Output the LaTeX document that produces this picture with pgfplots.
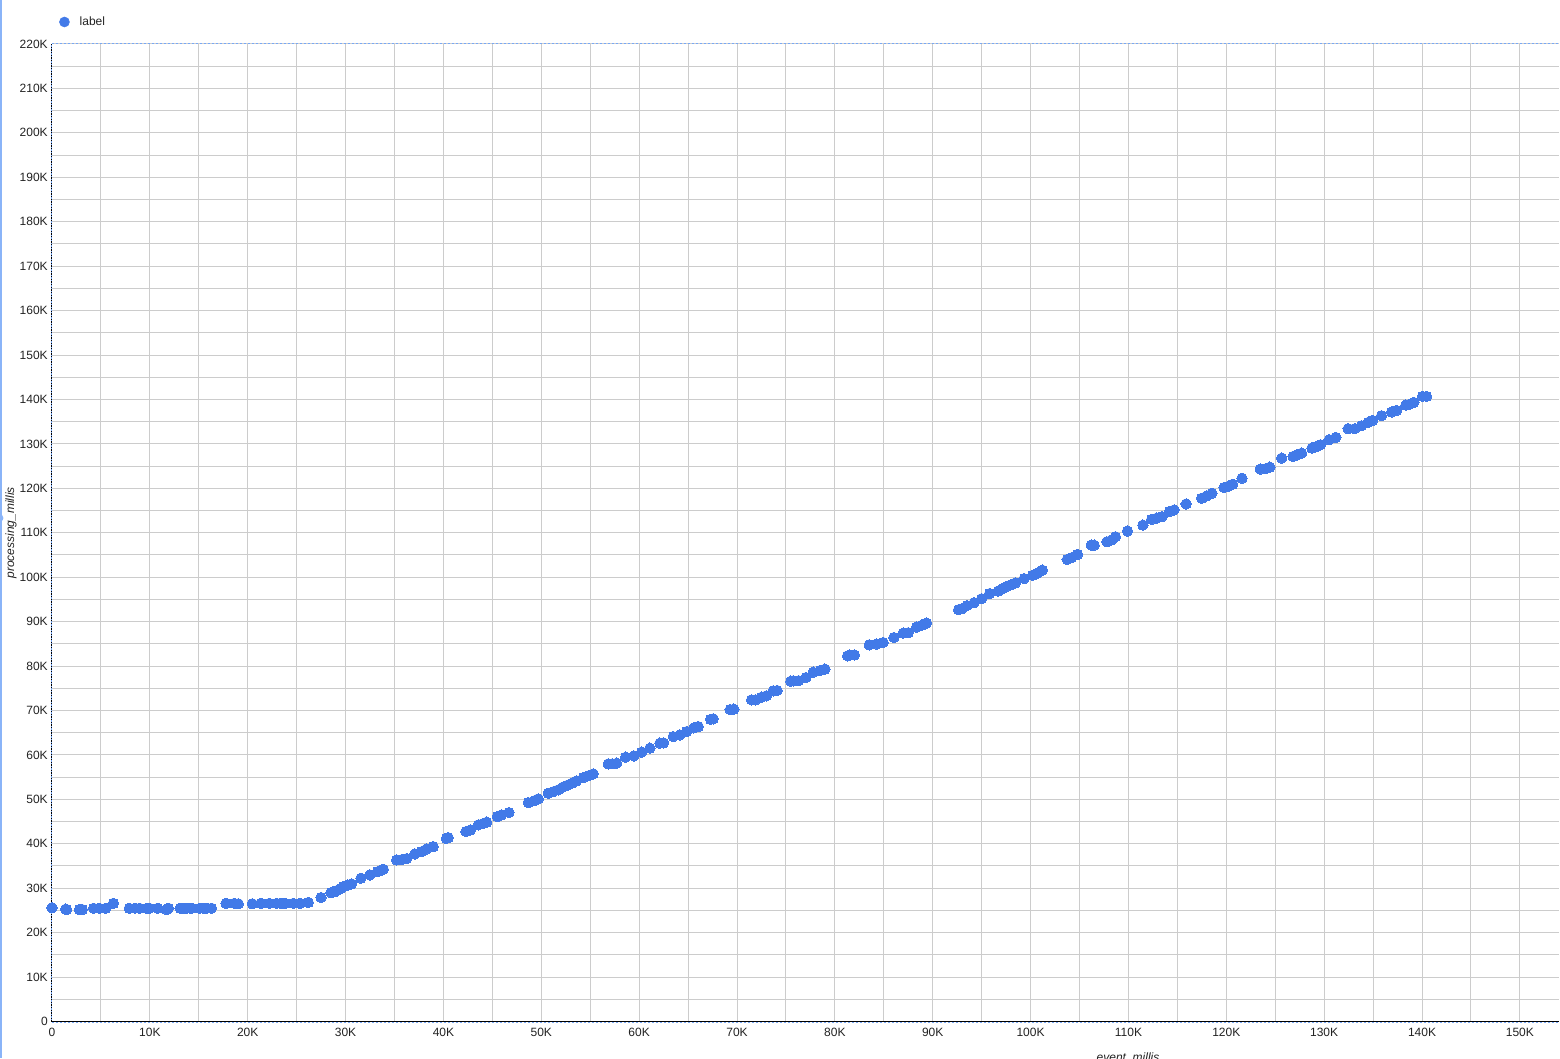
\documentclass[border=0pt]{standalone}
\usepackage{fontspec}
\setmainfont{Liberation Sans}
\usepackage{pgfplots}
\pgfplotsset{compat=1.18}
\definecolor{markblue}{RGB}{66,122,232}
\definecolor{gridgray}{RGB}{204,204,204}
\definecolor{dotblue}{RGB}{120,168,245}
\definecolor{stripeblue}{RGB}{138,180,248}
\definecolor{txt}{RGB}{34,34,34}

\pgfplotstableread{
x y
0 25600
1400 25300
1500 25200
2800 25200
3100 25200
4250 25500
4830 25500
5500 25500
6270 26600
7900 25500
8480 25500
8950 25500
9700 25500
9950 25500
10800 25500
11720 25200
11890 25500
13100 25500
13420 25500
13760 25500
14100 25500
14270 25500
15120 25500
15460 25500
15810 25500
16300 25500
17780 26600
18630 26600
19040 26500
20470 26500
21360 26600
22210 26600
22960 26600
23400 26600
23800 26600
24660 26600
25340 26600
26190 26800
27490 27900
28510 29000
28900 29200
29090 29450
29500 29900
29760 30350
30200 30700
30620 30960
31570 32250
32490 32990
33280 33730
33600 34000
33850 34270
35220 36370
35700 36400
36240 36660
37090 37720
37770 38230
38290 38840
38960 39360
40300 41200
40490 41390
42300 42740
42780 43120
43560 44250
44000 44500
44420 44860
45500 46120
45950 46500
46690 47020
48670 49270
49300 49700
49690 50100
50710 51380
51200 51700
51730 52130
52250 52800
52750 53250
53200 53700
53610 54150
54290 54900
54800 55300
55310 55730
56840 57980
57250 58000
57700 58140
58620 59490
59470 59780
60250 60620
61100 61520
62120 62640
62500 62700
63480 64130
64170 64510
64850 65260
65600 66100
66040 66380
67300 68000
67570 68120
69300 70200
69680 70300
71490 72390
71900 72400
72510 73000
73000 73300
73700 74420
74100 74500
75500 76600
75740 76670
76300 76700
77040 77410
77790 78630
78500 79000
78980 79310
81300 82300
81540 82460
82000 82500
83510 84780
84270 84940
84940 85300
86030 86420
86980 87410
87500 87500
88350 88760
88900 89200
89370 89660
92640 92680
93000 92900
93500 93600
94230 94260
95000 95160
95810 96310
96690 96890
97200 97500
97580 97950
98000 98300
98460 98720
99340 99680
100210 100430
100700 100900
101210 101580
103740 103990
104200 104400
104790 105110
106200 107210
106500 107200
107800 107970
108300 108400
108670 109100
109900 110380
111480 111730
112370 113010
112900 113300
113430 113620
114200 114800
114660 115130
115890 116480
117480 117770
118000 118300
118530 118890
119770 120180
120250 120500
120650 120920
121600 122270
123470 124320
124000 124400
124450 124770
125660 126800
126820 127180
127200 127500
127700 127920
128750 129050
129200 129400
129630 129810
130510 130940
131190 131460
132450 133420
133130 133420
133820 134090
134490 134830
134940 135280
135860 136340
136890 137170
137400 137530
138350 138750
138700 138900
139160 139340
140050 140690
140460 140690
}\datatable

\begin{document}
\begin{tikzpicture}
\useasboundingbox (-39pt,-27.375pt) rectangle (1131pt,766.125pt);
\begin{axis}[
  at={(0pt,0pt)}, anchor=south west,
  scale only axis, width=1130.25pt, height=733.125pt,
  xmin=0, xmax=154000, ymin=0, ymax=220000,
  clip=false,
  axis line style={draw=none},
  scaled x ticks=false, scaled y ticks=false,
  xtick={0,10000,20000,30000,40000,50000,60000,70000,80000,90000,100000,110000,120000,130000,140000,150000},
  xticklabels={0,10K,20K,30K,40K,50K,60K,70K,80K,90K,100K,110K,120K,130K,140K,150K},
  minor xtick={5000,15000,25000,35000,45000,55000,65000,75000,85000,95000,105000,115000,125000,135000,145000},
  ytick={0,10000,20000,30000,40000,50000,60000,70000,80000,90000,100000,110000,120000,130000,140000,150000,160000,170000,180000,190000,200000,210000,220000},
  yticklabels={0,10K,20K,30K,40K,50K,60K,70K,80K,90K,100K,110K,120K,130K,140K,150K,160K,170K,180K,190K,200K,210K,220K},
  minor ytick={5000,15000,25000,35000,45000,55000,65000,75000,85000,95000,105000,115000,125000,135000,145000,155000,165000,175000,185000,195000,205000,215000},
  grid=both,
  major grid style={gridgray, line width=0.75pt},
  minor grid style={gridgray, line width=0.75pt},
  major tick length=0pt, minor tick length=0pt,
  tick style={draw=none},
  ticklabel style={font=\fontsize{9pt}{10pt}\selectfont, text=txt},
  xticklabel style={inner sep=0pt, anchor=north, yshift=-4.9pt},
  yticklabel style={inner sep=0pt, anchor=east, xshift=-3pt},
  xlabel={\itshape event\_millis},
  xlabel style={at={(axis description cs:0.714,-0.0404)}, anchor=base, inner sep=0pt, font=\fontsize{9pt}{10pt}\selectfont, text=txt},
  ylabel={\itshape processing\_millis},
  ylabel style={at={(axis description cs:-0.0272,0.5)}, anchor=center, rotate=0, inner sep=0pt, font=\fontsize{9pt}{10pt}\selectfont, text=txt},
  legend style={at={(axis description cs:0.0046,1.0225)}, anchor=west, draw=none, fill=none, inner sep=0pt,
    font=\fontsize{9pt}{10pt}\selectfont, text=txt, nodes={inner sep=0pt},
    /tikz/every odd column/.append style={column sep=7.5pt}},
  legend image code/.code={\fill[markblue] (3.75pt,0pt) circle (3.75pt);},
]
\addplot[color=markblue, only marks, mark=*, mark size=3.9pt, mark options={fill=markblue, draw=markblue, line width=0pt}] table[x=x, y=y] {\datatable};
\addlegendentry{label}
\draw[black, line width=0.75pt] (rel axis cs:0,0) -- (rel axis cs:1,0);
\draw[dotblue, line width=0.75pt, dash pattern=on 1.5pt off 1.5pt] ([yshift=-1pt]rel axis cs:0,0) -- ([yshift=-1pt]rel axis cs:1,0);
\draw[dotblue, line width=0.75pt, dash pattern=on 1.5pt off 1.5pt] (rel axis cs:0,1) -- (rel axis cs:1,1);
\draw[dotblue, line width=0.75pt] (rel axis cs:0,0) -- (rel axis cs:0,1);
\draw[black, line width=0.75pt, dash pattern=on 1pt off 1pt] (rel axis cs:0,0) -- (rel axis cs:0,1);
\end{axis}
\fill[stripeblue] (-39pt,-27.375pt) rectangle (-37.5pt,766.125pt);
\fill[stripeblue] (-39pt,377.6pt) circle (2.6pt);
\end{tikzpicture}
\end{document}
